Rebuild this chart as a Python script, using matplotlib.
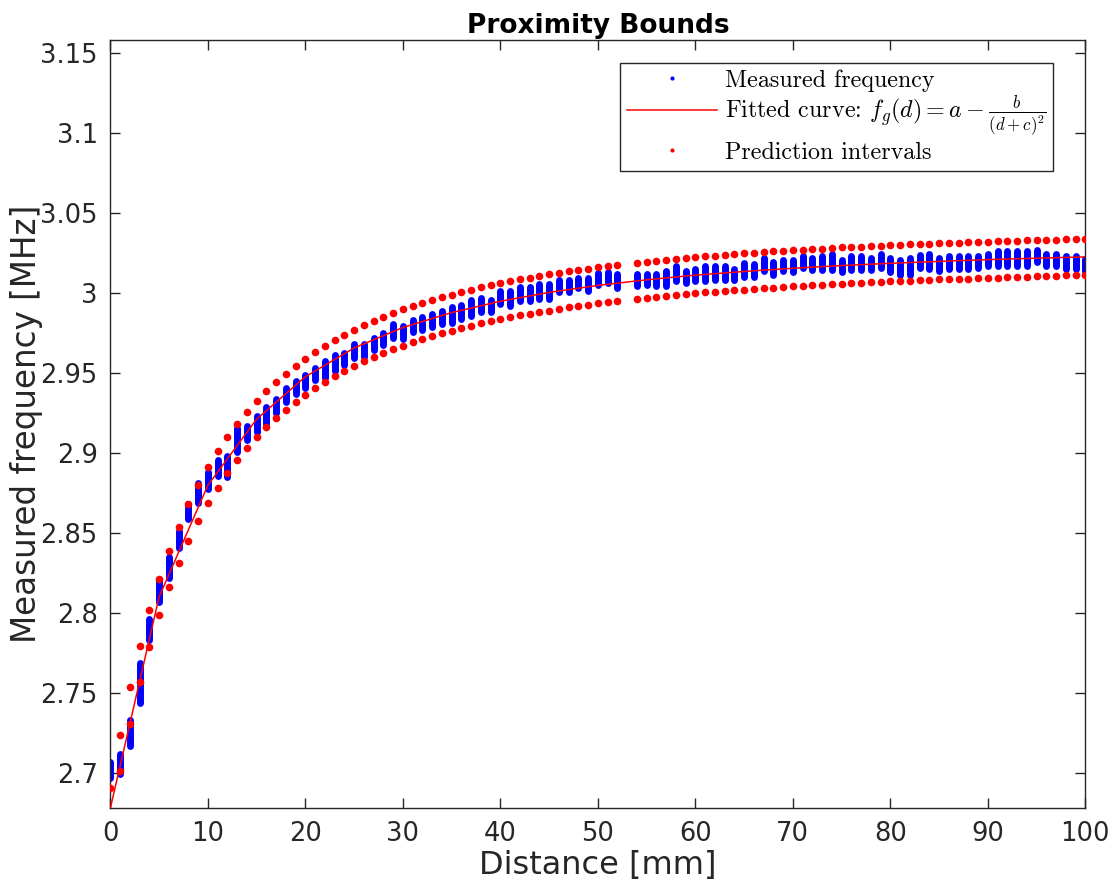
import numpy as np
import matplotlib
matplotlib.use('Agg')
import matplotlib.pyplot as plt
from matplotlib.lines import Line2D
from matplotlib.ticker import FuncFormatter

# ── data ─────────────────────────────────────────────────────────────────────
# distances [mm] at which the frequency was measured (53 mm is missing)
distance = list(range(0, 53)) + list(range(54, 101))

# spread of the measured frequency at each distance [MHz]
freq_min = [
    2.6968, 2.6993, 2.7172, 2.7436, 2.7833, 2.8066, 2.8218, 2.8405, 2.8586, 2.8686,
    2.8776, 2.8859, 2.8847, 2.9009, 2.9083, 2.9134, 2.9183, 2.9249, 2.9318, 2.9370,
    2.9409, 2.9458, 2.9468, 2.9509, 2.9547, 2.9593, 2.9599, 2.9641, 2.9672, 2.9716,
    2.9714, 2.9753, 2.9766, 2.9784, 2.9808, 2.9812, 2.9837, 2.9853, 2.9880, 2.9880,
    2.9933, 2.9920, 2.9947, 2.9947, 2.9961, 2.9961, 3.0003, 3.0003, 3.0028, 3.0014,
    3.0051, 3.0061, 3.0030,
    3.0045, 3.0051, 3.0041, 3.0045, 3.0072, 3.0061, 3.0072, 3.0072, 3.0083, 3.0078,
    3.0083, 3.0099, 3.0099, 3.0134, 3.0114, 3.0134, 3.0128, 3.0155, 3.0145, 3.0145,
    3.0145, 3.0128, 3.0145, 3.0145, 3.0145, 3.0155, 3.0128, 3.0114, 3.0114, 3.0155,
    3.0151, 3.0134, 3.0151, 3.0151, 3.0151, 3.0155, 3.0166, 3.0166, 3.0166, 3.0166,
    3.0170, 3.0193, 3.0166, 3.0166, 3.0151, 3.0151, 3.0134,
]
freq_max = [
    2.7067, 2.7121, 2.7330, 2.7688, 2.7963, 2.8209, 2.8351, 2.8511, 2.8678, 2.8813,
    2.8882, 2.8953, 2.8980, 2.9159, 2.9171, 2.9230, 2.9286, 2.9338, 2.9407, 2.9449,
    2.9490, 2.9530, 2.9572, 2.9613, 2.9626, 2.9682, 2.9682, 2.9721, 2.9751, 2.9805,
    2.9793, 2.9830, 2.9849, 2.9871, 2.9890, 2.9913, 2.9926, 2.9955, 2.9968, 2.9955,
    3.0011, 3.0011, 3.0038, 3.0038, 3.0053, 3.0053, 3.0080, 3.0080, 3.0094, 3.0094,
    3.0126, 3.0130, 3.0121,
    3.0121, 3.0121, 3.0121, 3.0136, 3.0168, 3.0136, 3.0151, 3.0168, 3.0168, 3.0168,
    3.0151, 3.0188, 3.0178, 3.0219, 3.0193, 3.0205, 3.0205, 3.0230, 3.0219, 3.0230,
    3.0246, 3.0205, 3.0230, 3.0230, 3.0219, 3.0246, 3.0219, 3.0205, 3.0219, 3.0234,
    3.0246, 3.0219, 3.0230, 3.0230, 3.0230, 3.0230, 3.0246, 3.0259, 3.0259, 3.0259,
    3.0259, 3.0271, 3.0246, 3.0246, 3.0230, 3.0230, 3.0215,
]

# prediction interval bounds at each distance [MHz]
pi_upper = [
    2.6905, 2.7238, 2.7535, 2.7792, 2.8016, 2.8213, 2.8386, 2.8540, 2.8678, 2.8800,
    2.8911, 2.9010, 2.9100, 2.9182, 2.9256, 2.9324, 2.9386, 2.9443, 2.9496, 2.9544,
    2.9589, 2.9631, 2.9669, 2.9705, 2.9738, 2.9769, 2.9798, 2.9825, 2.9851, 2.9874,
    2.9897, 2.9918, 2.9937, 2.9956, 2.9974, 2.9990, 3.0006, 3.0021, 3.0035, 3.0048,
    3.0061, 3.0074, 3.0085, 3.0096, 3.0107, 3.0116, 3.0126, 3.0135, 3.0144, 3.0152,
    3.0160, 3.0167, 3.0174,
    3.0188, 3.0195, 3.0201, 3.0207, 3.0212, 3.0218, 3.0224, 3.0229, 3.0233, 3.0238,
    3.0243, 3.0247, 3.0251, 3.0255, 3.0259, 3.0263, 3.0267, 3.0270, 3.0274, 3.0277,
    3.0280, 3.0284, 3.0287, 3.0289, 3.0292, 3.0295, 3.0298, 3.0300, 3.0303, 3.0305,
    3.0308, 3.0310, 3.0312, 3.0314, 3.0316, 3.0318, 3.0321, 3.0322, 3.0324, 3.0326,
    3.0328, 3.0330, 3.0331, 3.0333, 3.0335, 3.0337, 3.0338,
]
pi_lower = [
    2.6667, 2.7012, 2.7309, 2.7566, 2.7790, 2.7987, 2.8160, 2.8314, 2.8452, 2.8574,
    2.8685, 2.8784, 2.8874, 2.8956, 2.9030, 2.9098, 2.9160, 2.9217, 2.9270, 2.9318,
    2.9363, 2.9405, 2.9443, 2.9479, 2.9512, 2.9543, 2.9572, 2.9599, 2.9625, 2.9648,
    2.9671, 2.9692, 2.9711, 2.9730, 2.9748, 2.9764, 2.9780, 2.9795, 2.9809, 2.9822,
    2.9835, 2.9848, 2.9859, 2.9870, 2.9881, 2.9890, 2.9900, 2.9909, 2.9918, 2.9926,
    2.9934, 2.9941, 2.9948,
    2.9962, 2.9969, 2.9975, 2.9981, 2.9986, 2.9992, 2.9998, 3.0003, 3.0007, 3.0012,
    3.0017, 3.0021, 3.0025, 3.0029, 3.0033, 3.0037, 3.0041, 3.0044, 3.0048, 3.0051,
    3.0054, 3.0058, 3.0061, 3.0063, 3.0066, 3.0069, 3.0072, 3.0074, 3.0077, 3.0079,
    3.0082, 3.0084, 3.0086, 3.0088, 3.0090, 3.0092, 3.0095, 3.0096, 3.0098, 3.0100,
    3.0102, 3.0104, 3.0105, 3.0107, 3.0109, 3.0111, 3.0112,
]

# fitted curve, sampled every 5 mm
fit_d = [0, 5, 10, 15, 20, 25, 30, 35, 40, 45, 50,
         55, 60, 65, 70, 75, 80, 85, 90, 95, 100]
fit_f = [2.6780, 2.8100, 2.8798, 2.9211, 2.9476, 2.9656, 2.9784, 2.9877, 2.9948,
         3.0003, 3.0047, 3.0082, 3.0111, 3.0134, 3.0154, 3.0171, 3.0185, 3.0197,
         3.0208, 3.0217, 3.0225]

x_ticks = list(range(0, 101, 10))
y_ticks = [2.70, 2.75, 2.80, 2.85, 2.90, 2.95, 3.00, 3.05, 3.10, 3.15]

# ── figure ───────────────────────────────────────────────────────────────────
plt.rcParams['font.family'] = 'DejaVu Sans'
plt.rcParams['mathtext.fontset'] = 'cm'

INK = '#262626'
fig = plt.figure(figsize=(11.19, 8.82), dpi=100)
ax = fig.add_axes([0.0986, 0.0836, 0.8713, 0.8710])

ax.vlines(distance, freq_min, freq_max, colors='#0000ff', linewidth=5,
          capstyle='round', zorder=2)
ax.plot(fit_d, fit_f, color='#ff0000', linewidth=1.1, zorder=3)
ax.plot(distance, pi_upper, 'o', color='#ff0000', ms=5.5, mew=0, zorder=4)
ax.plot(distance, pi_lower, 'o', color='#ff0000', ms=5.5, mew=0, zorder=4)

ax.set_xlim(0, 100)
ax.set_ylim(2.678, 3.158)
ax.set_xticks(x_ticks)
ax.set_yticks(y_ticks)
ax.yaxis.set_major_formatter(FuncFormatter(lambda v, p: f'{v:g}'))
ax.tick_params(direction='in', length=7.5, width=1, colors=INK,
               labelsize=18.5, top=True, right=True, pad=9)
for s in ax.spines.values():
    s.set_color(INK)
    s.set_linewidth(1)

ax.set_title('Proximity Bounds', fontsize=19, fontweight='bold', pad=5)
ax.set_xlabel('Distance [mm]', fontsize=23, color=INK, labelpad=2)
ax.set_ylabel('Measured frequency [MHz]', fontsize=23.5, color=INK)
ax.yaxis.set_label_coords(-0.069, 0.5)

handles = [
    Line2D([], [], ls='none', marker='o', ms=3, mew=0, color='#0000ff'),
    Line2D([], [], color='#ff0000', lw=1.1),
    Line2D([], [], ls='none', marker='o', ms=3, mew=0, color='#ff0000'),
]
labels = ['Measured frequency',
          r'Fitted curve: $f_g(d) = a - \frac{b}{(d+c)^2}$',
          'Prediction intervals']
leg = ax.legend(handles, labels, loc='upper left',
                bbox_to_anchor=(0.5228, 0.9707), borderaxespad=0,
                prop={'family': 'cmr10', 'size': 17.3},
                handlelength=3.75, handletextpad=0.33, borderpad=0.28,
                labelspacing=0.1, fancybox=False, framealpha=1,
                edgecolor=INK)
leg.get_frame().set_linewidth(1)

fig.savefig('out.png', dpi=100)
